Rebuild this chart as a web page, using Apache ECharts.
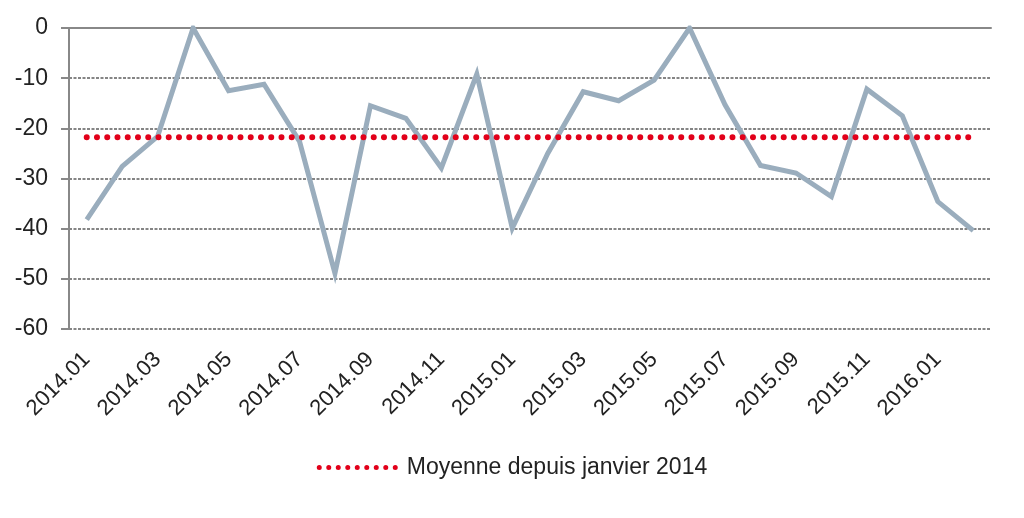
<!DOCTYPE html>
<html><head><meta charset="utf-8">
<script src="https://cdn.jsdelivr.net/npm/echarts@6/dist/echarts.min.js"></script>
<style>html,body{margin:0;padding:0;background:#fff}#c{width:1024px;height:518px}</style>
</head><body><div id="c"></div>
<script>
const categories = ['2014.01','2014.02','2014.03','2014.04','2014.05','2014.06','2014.07','2014.08','2014.09','2014.10','2014.11','2014.12','2015.01','2015.02','2015.03','2015.04','2015.05','2015.06','2015.07','2015.08','2015.09','2015.10','2015.11','2015.12','2016.01','2016.02'];
const values = [-38.2,-27.6,-21.6,0,-12.5,-11.2,-22.6,-48.9,-15.5,-18.0,-27.9,-9.2,-39.9,-25.0,-12.7,-14.5,-10.4,0,-15.3,-27.4,-28.9,-33.6,-12.2,-17.5,-34.6,-40.4];
const average = [-21.8,-21.8,-21.8,-21.8,-21.8,-21.8,-21.8,-21.8,-21.8,-21.8,-21.8,-21.8,-21.8,-21.8,-21.8,-21.8,-21.8,-21.8,-21.8,-21.8,-21.8,-21.8,-21.8,-21.8,-21.8,-21.8];
const averageName = 'Moyenne depuis janvier 2014';
const yTicks = {min: -60, max: 0, interval: 10};

const FONT = 'Liberation Sans, Arial, Helvetica, sans-serif';
// legend icon: row of 9 round dots
let dotPath = 'path://';
for (let i = 0; i < 9; i++) {
  const cx = 2.5 + i * 9.5;
  dotPath += 'M' + (cx - 2.5) + ',2.5 a2.5,2.5 0 1,0 5,0 a2.5,2.5 0 1,0 -5,0 ';
}
const chart = echarts.init(document.getElementById('c'), null, {renderer: 'canvas'});
chart.setOption({
  animation: false,
  backgroundColor: '#fff',
  textStyle: {fontFamily: FONT},
  grid: {left: 69, right: 33, top: 28, bottom: 189, containLabel: false},
  legend: {
    data: [{name: averageName, icon: dotPath}],
    bottom: 34, left: 'center',
    itemWidth: 81, itemHeight: 5, itemGap: 10,
    textStyle: {fontSize: 23, color: '#222', fontFamily: FONT, padding: [0, 0, 0, 4]}
  },
  xAxis: [{
    type: 'category', data: categories, boundaryGap: true, position: 'bottom',
    axisLine: {show: false, onZero: false},
    axisTick: {show: false},
    axisLabel: {interval: 1, rotate: 45, fontSize: 22, color: '#222', margin: 27, fontFamily: FONT}
  }, {
    type: 'category', data: categories, boundaryGap: true, position: 'top',
    axisLine: {show: true, lineStyle: {color: '#888', width: 2}},
    axisTick: {show: false}, axisLabel: {show: false}
  }],
  yAxis: {
    type: 'value', min: yTicks.min, max: yTicks.max, interval: yTicks.interval,
    axisLine: {show: true, lineStyle: {color: '#888', width: 2}},
    axisTick: {show: true, inside: false, length: 8, lineStyle: {color: '#888', width: 2}},
    axisLabel: {fontSize: 23, color: '#222', margin: 21, fontFamily: FONT},
    splitLine: {show: true, lineStyle: {color: '#858585', width: 2, type: [3, 1.5]}}
  },
  series: [{
    type: 'line', name: 'values', data: values, symbol: 'none',
    lineStyle: {color: '#9aadbd', width: 5, join: 'miter'}, z: 3
  }, {
    type: 'line', name: averageName, data: average, symbol: 'none',
    color: '#e2001a',
    lineStyle: {color: '#e2001a', width: 6, type: [0, 10.25], cap: 'round'}, z: 4
  }]
});
</script></body></html>
